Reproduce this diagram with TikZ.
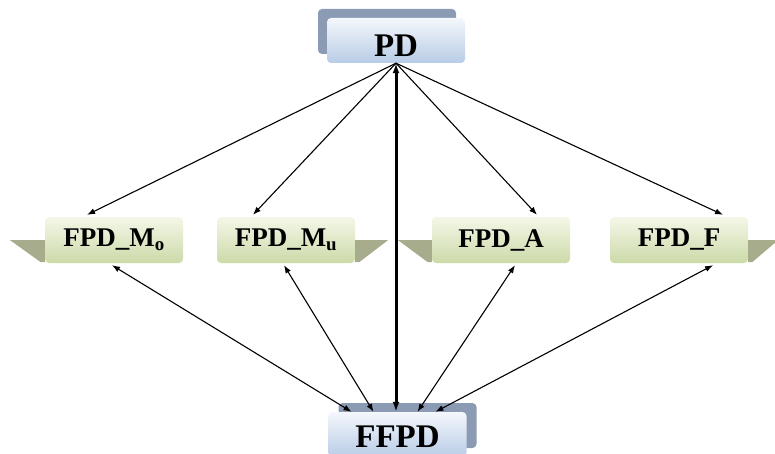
\documentclass[tikz,border=0pt]{standalone}
\usepackage{fontspec}
\setmainfont{Liberation Serif}
\usetikzlibrary{calc, shadows, arrows.meta}

\definecolor{blueTop}{RGB}{244,247,252}
\definecolor{blueBot}{RGB}{184,204,230}
\definecolor{blueShade}{RGB}{140,155,180}
\definecolor{greenTop}{RGB}{244,247,232}
\definecolor{greenBot}{RGB}{204,218,168}
\definecolor{greenTail}{RGB}{166,172,140}

\begin{document}
\begin{tikzpicture}[x=1pt, y=-1pt, >={Latex[length=8pt, width=6pt]},
        bluebox/.style={rounded corners=4pt, minimum width=138pt, inner ysep=0pt,
            top color=blueTop, bottom color=blueBot, font=\fontsize{33}{35}\selectfont\bfseries},
        greenbox/.style={rounded corners=4pt, minimum width=138pt, minimum height=46pt,
            top color=greenTop, bottom color=greenBot, font=\fontsize{27}{29}\selectfont\bfseries},
        link/.style={line width=1.1pt}]
        \useasboundingbox (0,0) rectangle (775,454);
        \clip (0,0) rectangle (775,454);

        \node[bluebox, text height=39pt, text depth=6pt,
            drop shadow={shadow xshift=-9pt, shadow yshift=9pt, opacity=1, fill=blueShade}] (PD) at (396,40.5) {PD};
        \node[bluebox, text height=35pt, text depth=10pt,
            drop shadow={shadow xshift=10pt, shadow yshift=9pt, opacity=1, fill=blueShade}] (FFPD) at (397.5,434.5) {FFPD};

        \node[greenbox] (Mo) at (114,240) {FPD\_M\textsubscript{o}};
        \node[greenbox] (Mu) at (286,240) {FPD\_M\textsubscript{u}};
        \node[greenbox] (A) at (501,240) {FPD\_A};
        \node[greenbox] (F) at (679,240) {FPD\_F};

        % tails behind the boxes
        \fill[greenTail] ($(Mo.west)+(-35,0)$) -- (Mo.west) -- ($(Mo.south west)+(0,-1)$) -- ($(Mo.south west)+(-4,-1)$) -- cycle;
        \fill[greenTail] ($(Mu.east)+(33,0)$) -- (Mu.east) -- ($(Mu.south east)+(0,-1)$) -- ($(Mu.south east)+(4,-1)$) -- cycle;
        \fill[greenTail] ($(A.west)+(-34,0)$) -- (A.west) -- ($(A.south west)+(0,-1)$) -- ($(A.south west)+(-4,-1)$) -- cycle;
        \fill[greenTail] ($(F.east)+(30,0)$) -- (F.east) -- ($(F.south east)+(0,-1)$) -- ($(F.south east)+(4,-1)$) -- cycle;

        \draw[link, ->] (PD.south) -- ($(Mo.north)+(-27,-2)$);
        \draw[link, ->] (PD.south) -- ($(Mu.north)+(-33,-2)$);
        \draw[link, ->] (PD.south) -- ($(A.north)+(36,-2)$);
        \draw[link, ->] (PD.south) -- ($(F.north)+(44,-2)$);

        \draw[{Latex[length=10pt, width=7pt]}-{Latex[length=10pt, width=7pt]}, line width=3pt] (PD.south) -- (PD.south |- FFPD.north);

        \draw[link, <->] ($(Mo.south)+(-2,2)$) -- ($(FFPD.north)+(-46,0)$);
        \draw[link, <->] ($(Mu.south)+(-2,2)$) -- ($(FFPD.north)+(-24,0)$);
        \draw[link, <->] ($(A.south)+(14,2)$) -- ($(FFPD.north)+(20,0)$);
        \draw[link, <->] ($(F.south)+(34,2)$) -- ($(FFPD.north)+(38,0)$);
    \end{tikzpicture}
\end{document}
